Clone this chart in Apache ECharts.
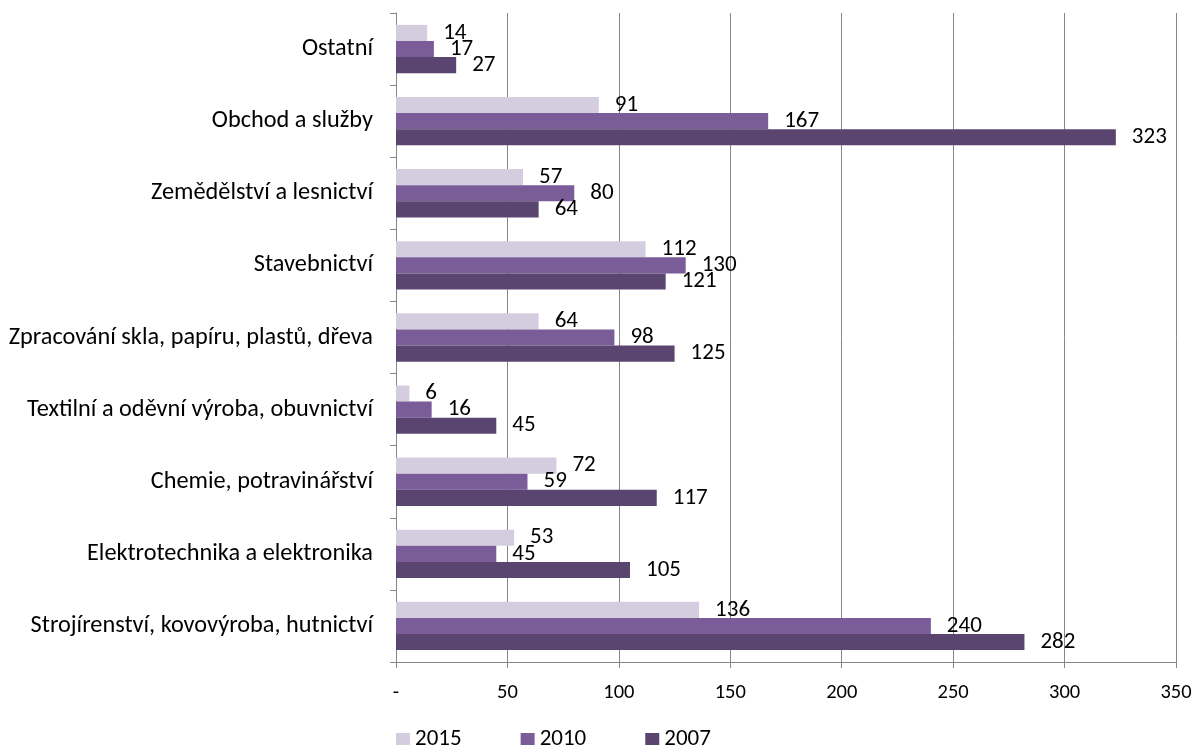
<!DOCTYPE html>
<html>
<head>
<meta charset="utf-8">
<script src="https://cdn.jsdelivr.net/npm/echarts@6/dist/echarts.min.js"></script>
<style>
html,body{margin:0;padding:0;background:#fff;}
#chart{width:1197px;height:746px;}
</style>
</head>
<body>
<div id="chart"></div>
<script>
const categories = [
  "Strojírenství, kovovýroba, hutnictví",
  "Elektrotechnika a elektronika",
  "Chemie, potravinářství",
  "Textilní a oděvní výroba, obuvnictví",
  "Zpracování skla, papíru, plastů, dřeva",
  "Stavebnictví",
  "Zemědělství a lesnictví",
  "Obchod a služby",
  "Ostatní"
];
const values2007 = [282, 105, 117, 45, 125, 121, 64, 323, 27];
const values2010 = [240, 45, 59, 16, 98, 130, 80, 167, 17];
const values2015 = [136, 53, 72, 6, 64, 112, 57, 91, 14];
const xTicks = [0, 50, 100, 150, 200, 250, 300, 350];

const FONT = 'Carlito, "Liberation Sans", Arial, sans-serif';
const chart = echarts.init(document.getElementById('chart'));
const labelCfg = {
  show: true,
  position: 'right',
  distance: 16,
  color: '#000',
  fontFamily: FONT,
  fontSize: 23
};
chart.setOption({
  animation: false,
  textStyle: {fontFamily: FONT},
  grid: {left: 396, right: 21, top: 13, bottom: 84, containLabel: false},
  legend: {
    top: 726,
    left: 396,
    padding: 0,
    itemGap: 59,
    itemWidth: 14,
    itemHeight: 12,
    icon: 'rect',
    textStyle: {fontSize: 23, color: '#000', fontFamily: FONT, lineHeight: 26},
    data: ['2015', '2010', '2007']
  },
  xAxis: {
    type: 'value',
    min: xTicks[0],
    max: xTicks[xTicks.length - 1],
    interval: 50,
    axisLine: {show: true, lineStyle: {color: '#868686', width: 1}},
    axisTick: {show: true, length: 6, lineStyle: {color: '#868686'}},
    splitLine: {show: true, lineStyle: {color: '#868686', width: 1}},
    axisLabel: {
      margin: 20,
      fontSize: 20.5,
      color: '#000',
      fontFamily: FONT,
      formatter: v => (v === 0 ? '-' : String(v))
    }
  },
  yAxis: {
    type: 'category',
    data: categories,
    axisLine: {show: true, lineStyle: {color: '#868686', width: 1}},
    axisTick: {show: true, length: 6, lineStyle: {color: '#868686'}},
    axisLabel: {margin: 23, fontSize: 24.3, color: '#000', fontFamily: FONT}
  },
  series: [
    {name: '2015', type: 'bar', data: values2015, barGap: '0%', barCategoryGap: '33%',
     itemStyle: {color: '#d4cde0'}, label: labelCfg},
    {name: '2010', type: 'bar', data: values2010, barGap: '0%', barCategoryGap: '33%',
     itemStyle: {color: '#7a5d98'}, label: labelCfg},
    {name: '2007', type: 'bar', data: values2007, barGap: '0%', barCategoryGap: '33%',
     itemStyle: {color: '#5a4470'}, label: labelCfg}
  ]
});
</script>
</body>
</html>
